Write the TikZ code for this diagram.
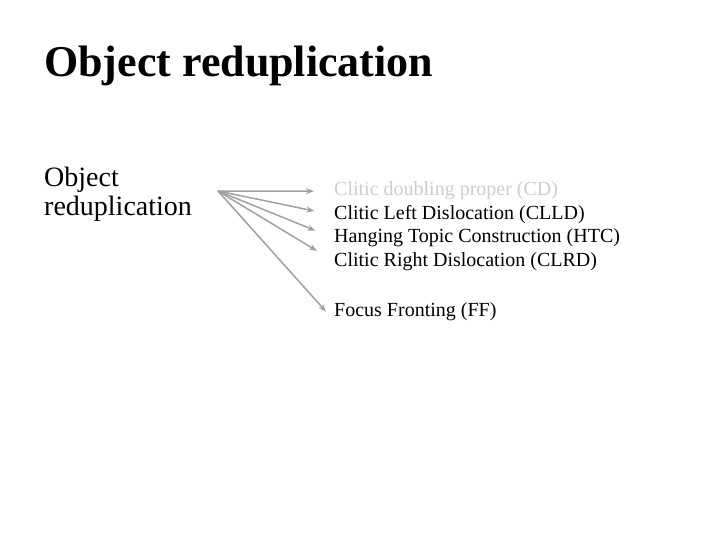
\documentclass[tikz,border=0pt]{standalone}
\usepackage{fontspec}
\setmainfont{Liberation Serif}
\usetikzlibrary{arrows,arrows.meta,positioning}
\definecolor{arrowgray}{RGB}{160,160,160}
\definecolor{fadegray}{RGB}{205,205,205}

\begin{document}
\begin{tikzpicture}[
    x=1pt, y=-1pt,
    heading/.style={anchor=base west, inner sep=0pt, font=\fontsize{44}{48}\selectfont\bfseries},
    lhs/.style={anchor=base west, inner sep=0pt, align=left, font=\fontsize{28}{28.5}\selectfont},
    item/.style={anchor=base west, inner sep=0pt, font=\fontsize{20}{24}\selectfont},
    arrow/.style={->, >={Stealth[length=8pt,width=6pt]}, arrowgray, line width=1.5pt, shorten >=20pt}
]
\useasboundingbox (0,0) rectangle (720,540);

%% -- Title and source -------------------------------------------
\node[heading] (title) at (44,77) {Object reduplication};
\node[lhs] (objred) at (44,215.5) {Object\\reduplication};
\coordinate (hub) at (218,191);

%% -- Targets ----------------------------------------------------
\node[item, text=fadegray] (cd) at (334,196) {Clitic doubling proper (CD)};
\node[item] (clld) at (334,220) {Clitic Left Dislocation (CLLD)};
\node[item] (htc)  at (334,243) {Hanging Topic Construction (HTC)};
\node[item] (clrd) at (334,266) {Clitic Right Dislocation (CLRD)};
\node[item] (ff)   at (334,316) {Focus Fronting (FF)};

%% -- Arrows -----------------------------------------------------
\draw[arrow] (hub) -- (cd.west);
\draw[arrow] (hub) -- (clld.west);
\draw[arrow] (hub) -- (htc.west);
\draw[arrow] (hub) -- (clrd.west);
\draw[arrow, shorten >=12pt] (hub) -- (ff.south west);
\end{tikzpicture}
\end{document}
